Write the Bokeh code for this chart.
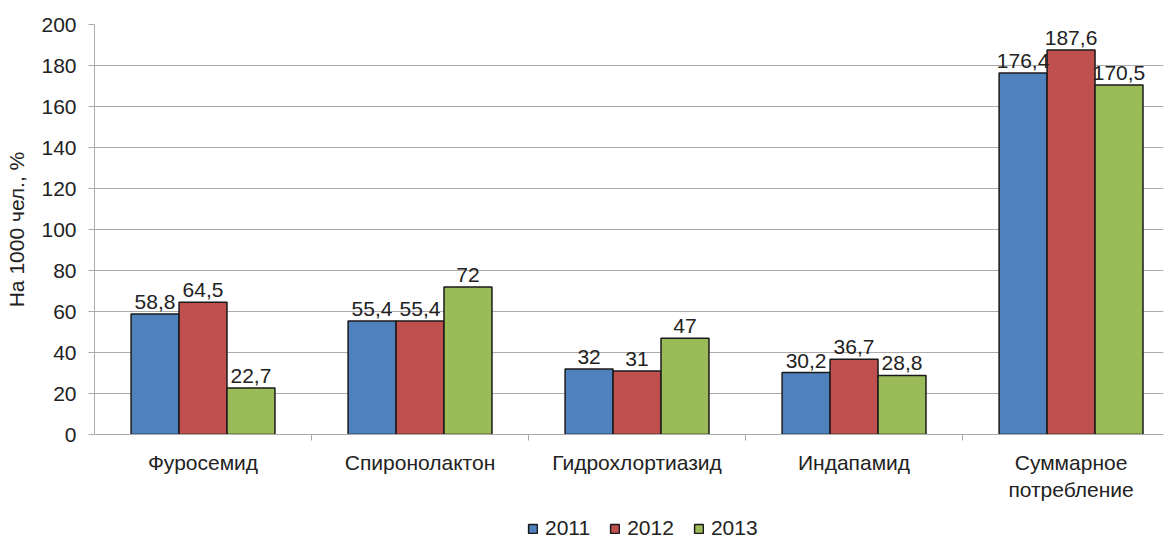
from bokeh.plotting import figure
from bokeh.layouts import column
from bokeh.models import (ColumnDataSource, FixedTicker, Range1d, Legend, LegendItem,
                          LabelSet)
from bokeh.core.properties import value
from bokeh.embed import file_html
from bokeh.resources import INLINE

categories = ["Фуросемид", "Спиронолактон", "Гидрохлортиазид", "Индапамид",
              "Суммарное\nпотребление"]
years = ["2011", "2012", "2013"]
v2011 = [58.8, 55.4, 32, 30.2, 176.4]
v2012 = [64.5, 55.4, 31, 36.7, 187.6]
v2013 = [22.7, 72, 47, 28.8, 170.5]
y_ticks = [0, 20, 40, 60, 80, 100, 120, 140, 160, 180, 200]
colors = ["#4F81BD", "#C0504D", "#9BBB59"]

FONT = "Liberation Sans"
FS = "21px"
TXT = "#222222"
GRID = "#ababab"

p = figure(width=1170, height=504, output_backend="svg", toolbar_location=None,
           x_range=Range1d(0, 4.926), y_range=Range1d(0, 200),
           min_border_left=94, min_border_right=7, min_border_top=24,
           min_border_bottom=68)
p.outline_line_color = None
p.background_fill_color = "white"

bar_w = 0.221
centers = [i + 0.5 for i in range(len(categories))]
offsets = [-bar_w, 0.0, bar_w]
for vals, col, off in zip([v2011, v2012, v2013], colors, offsets):
    src = ColumnDataSource(dict(
        x=[c + off for c in centers],
        top=vals,
        lbl=[f"{v:g}".replace(".", ",") for v in vals],
    ))
    p.vbar(x="x", top="top", width=bar_w, source=src, fill_color=col,
           line_color="#1a1a1a", line_width=1.5)
    p.add_layout(LabelSet(x="x", y="top", text="lbl", source=src,
                          text_align="center", text_baseline="bottom",
                          y_offset=5, text_font=value(FONT), text_font_size=FS,
                          text_color=TXT))

# y axis
p.yaxis.ticker = FixedTicker(ticks=y_ticks)
p.yaxis.axis_label = "На 1000 чел., %"
p.yaxis.axis_label_text_font = FONT
p.yaxis.axis_label_text_font_size = FS
p.yaxis.axis_label_text_font_style = "normal"
p.yaxis.axis_label_text_color = TXT
p.yaxis.axis_label_standoff = 10
p.yaxis.major_label_text_font = FONT
p.yaxis.major_label_text_font_size = FS
p.yaxis.major_label_text_color = TXT
p.yaxis.major_label_standoff = 12
p.yaxis.axis_line_color = GRID
p.yaxis.major_tick_line_color = GRID
p.yaxis.major_tick_out = 6
p.yaxis.major_tick_in = 0
p.yaxis.minor_tick_line_color = None

# x axis: labels at group centres, tick marks between groups
p.xaxis.ticker = FixedTicker(ticks=centers, minor_ticks=[1, 2, 3, 4])
p.xaxis.major_label_overrides = {c: name for c, name in zip(centers, categories)}
p.xaxis.major_label_text_font = FONT
p.xaxis.major_label_text_font_size = FS
p.xaxis.major_label_text_color = TXT
p.xaxis.major_label_standoff = 10
p.xaxis.major_tick_line_color = None
p.xaxis.major_tick_out = 6
p.xaxis.minor_tick_line_color = GRID
p.xaxis.minor_tick_out = 6
p.xaxis.minor_tick_in = 0
p.xaxis.axis_line_color = GRID

p.xgrid.grid_line_color = None
p.ygrid.grid_line_color = GRID
p.ygrid.grid_line_width = 1

# legend strip under the chart (its frame lines up with the chart's frame)
lg = figure(width=1170, height=34, output_backend="svg", toolbar_location=None,
            x_range=Range1d(0, 1), y_range=Range1d(0, 1),
            x_axis_type=None, y_axis_type=None,
            min_border=0, min_border_left=0, min_border_right=0,
            min_border_top=0, min_border_bottom=0)
lg.outline_line_color = None
lg.grid.grid_line_color = None
nan = float("nan")
items = []
for yr, col in zip(years, colors):
    # swatch-only renderers: NaN data draws nothing, the legend entry shows the style
    r = lg.vbar(x=[nan], top=[nan], width=0.1, fill_color=col, line_color="#1a1a1a",
                line_width=1.5)
    items.append(LegendItem(label=yr, renderers=[r]))
legend = Legend(items=items, orientation="horizontal", location=(433, -2),
                label_text_font=FONT, label_text_font_size=FS,
                label_text_color=TXT, glyph_width=11, glyph_height=11,
                spacing=19, label_standoff=7, border_line_color=None,
                background_fill_alpha=0, padding=0, margin=0)
lg.add_layout(legend, "center")

layout = column(p, lg, spacing=0)
open("out.html", "w").write(file_html(layout, INLINE))
